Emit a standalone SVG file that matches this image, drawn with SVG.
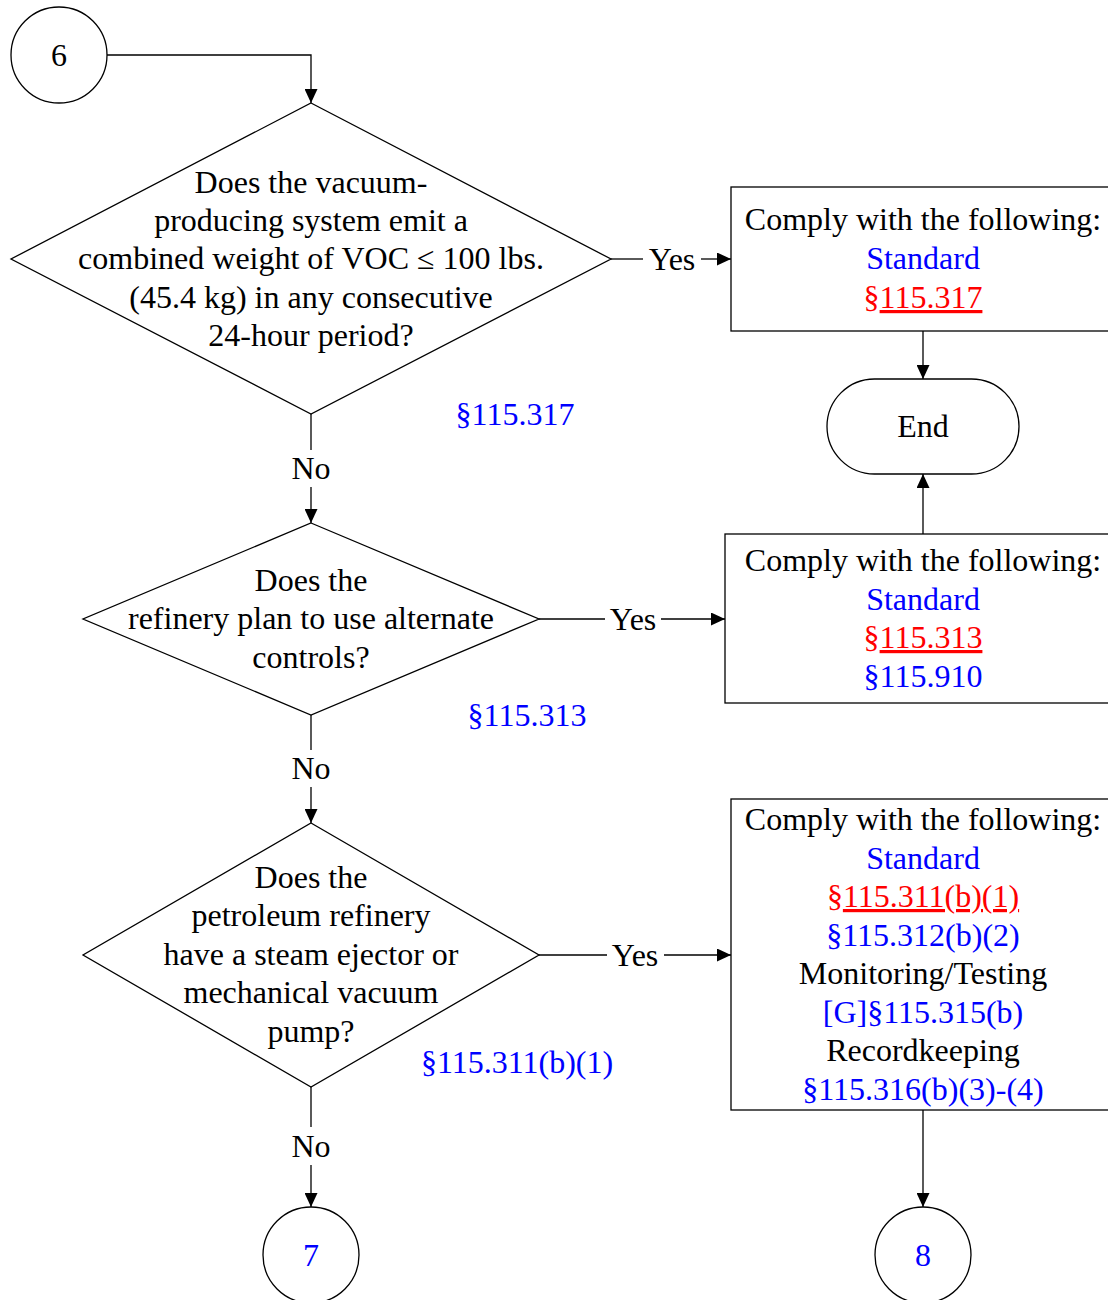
<svg xmlns="http://www.w3.org/2000/svg" width="1108" height="1300" viewBox="0 0 1108 1300">
<defs>
<marker id="arr" viewBox="0 0 14 13" refX="14" refY="6.5" markerWidth="14" markerHeight="13" markerUnits="userSpaceOnUse" orient="auto"><path d="M0,0 L14,6.5 L0,13 z" fill="#000"/></marker>
<style>
text{font-family:"Liberation Serif","Times New Roman",serif;font-size:32px;text-anchor:middle;fill:#000}
.b{fill:#0000ff}
.r{fill:#ff0000}
.u{text-decoration:underline;text-decoration-skip-ink:none}
.s{fill:#fff;stroke:#000;stroke-width:1.3}
.c{fill:none;stroke:#000;stroke-width:1.3}
</style>
</defs>
<rect width="1108" height="1300" fill="#fff"/>
<g id="connectors">
<path class="c" d="M107,55 H311 V103" marker-end="url(#arr)"/>
<path class="c" d="M611,259 H643"/>
<path class="c" d="M701,259 H731" marker-end="url(#arr)"/>
<path class="c" d="M923,331 V379" marker-end="url(#arr)"/>
<path class="c" d="M923,534 V474" marker-end="url(#arr)"/>
<path class="c" d="M311,414 V450"/>
<path class="c" d="M311,487 V523" marker-end="url(#arr)"/>
<path class="c" d="M539,619 H605"/>
<path class="c" d="M661,619 H725" marker-end="url(#arr)"/>
<path class="c" d="M311,715 V750"/>
<path class="c" d="M311,787 V823" marker-end="url(#arr)"/>
<path class="c" d="M539,955 H607"/>
<path class="c" d="M664,955 H731" marker-end="url(#arr)"/>
<path class="c" d="M311,1087 V1127"/>
<path class="c" d="M311,1165 V1207" marker-end="url(#arr)"/>
<path class="c" d="M923,1110 V1207" marker-end="url(#arr)"/>
<text x="672" y="270">Yes</text>
<text x="311" y="479">No</text>
<text x="633" y="630">Yes</text>
<text x="311" y="779">No</text>
<text x="635" y="966">Yes</text>
<text x="311" y="1157">No</text>
</g>
<g id="n6"><circle class="s" cx="59" cy="55" r="48"/><text x="59" y="66">6</text></g>
<g id="d1"><polygon class="s" points="311,103 611,259 311,414 11,259"/>
<text x="311" y="193">Does the vacuum-</text>
<text x="311" y="231">producing system emit a</text>
<text x="311" y="269">combined weight of VOC ≤ 100 lbs.</text>
<text x="311" y="308">(45.4 kg) in any consecutive</text>
<text x="311" y="346">24-hour period?</text>
</g>
<text class="b" x="515" y="425">§115.317</text>
<g id="box1"><rect class="s" x="731" y="187" width="390" height="144"/>
<text x="923" y="230">Comply with the following:</text>
<text class="b" x="923" y="269">Standard</text>
<text class="r" x="923" y="308">§<tspan class="u">115.317</tspan></text>
</g>
<g id="end"><rect class="s" x="827" y="379" width="192" height="95" rx="47.5"/><text x="923" y="437">End</text></g>
<g id="d2"><polygon class="s" points="311,523 539,619 311,715 83,619"/>
<text x="311" y="591">Does the</text>
<text x="311" y="629">refinery plan to use alternate</text>
<text x="311" y="668">controls?</text>
</g>
<text class="b" x="527" y="726">§115.313</text>
<g id="box2"><rect class="s" x="725" y="534" width="396" height="169"/>
<text x="923" y="571">Comply with the following:</text>
<text class="b" x="923" y="610">Standard</text>
<text class="r" x="923" y="648">§<tspan class="u">115.313</tspan></text>
<text class="b" x="923" y="687">§115.910</text>
</g>
<g id="d3"><polygon class="s" points="311,823 539,955 311,1087 83,955"/>
<text x="311" y="888">Does the</text>
<text x="311" y="926">petroleum refinery</text>
<text x="311" y="965">have a steam ejector or</text>
<text x="311" y="1003">mechanical vacuum</text>
<text x="311" y="1042">pump?</text>
</g>
<text class="b" x="517" y="1073">§115.311(b)(1)</text>
<g id="box3"><rect class="s" x="731" y="799" width="390" height="311"/>
<text x="923" y="830">Comply with the following:</text>
<text class="b" x="923" y="869">Standard</text>
<text class="r" x="923" y="907">§<tspan class="u">115.311(b)(1)</tspan></text>
<text class="b" x="923" y="946">§115.312(b)(2)</text>
<text x="923" y="984">Monitoring/Testing</text>
<text class="b" x="923" y="1023">[G]§115.315(b)</text>
<text x="923" y="1061">Recordkeeping</text>
<text class="b" x="923" y="1100">§115.316(b)(3)-(4)</text>
</g>
<g id="n7"><circle class="s" cx="311" cy="1255" r="48"/><text class="b" x="311" y="1266">7</text></g>
<g id="n8"><circle class="s" cx="923" cy="1255" r="48"/><text class="b" x="923" y="1266">8</text></g>
</svg>
